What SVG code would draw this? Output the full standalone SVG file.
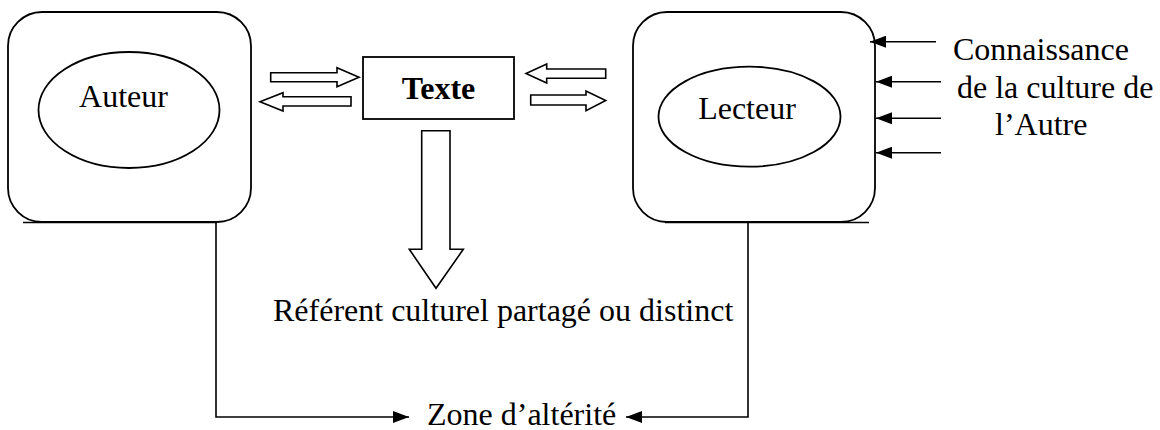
<svg xmlns="http://www.w3.org/2000/svg" width="1160" height="430" viewBox="0 0 1160 430">
<defs>
<style>
.t{font-family:"Liberation Serif","Times New Roman",serif;font-size:32px;fill:#000}
.b{font-weight:bold}
.box{fill:none;stroke:#000;stroke-width:1.8}
.ln{fill:none;stroke:#000;stroke-width:1.6}
.blk{fill:#fff;stroke:#000;stroke-width:1.6;stroke-linejoin:miter}
</style>
<marker id="ah" viewBox="0 0 16 12" refX="16" refY="6" markerWidth="16" markerHeight="12" markerUnits="userSpaceOnUse" orient="auto">
<path d="M0,0 L16,6 L0,12 Z" fill="#000"/>
</marker>
</defs>
<rect width="1160" height="430" fill="#fff"/>
<g id="auteur">
<rect class="box" x="8" y="12" width="243" height="210" rx="34" ry="34"/>
<line class="ln" x1="23" y1="222.5" x2="217" y2="222.5"/>
<ellipse class="box" cx="129" cy="110" rx="90.5" ry="58"/>
<text class="t" x="123.5" y="107" text-anchor="middle">Auteur</text>
</g>
<g id="texte">
<rect class="box" x="363" y="57" width="151" height="62"/>
<text class="t b" x="438.5" y="99" text-anchor="middle">Texte</text>
</g>
<g id="lecteur">
<rect class="box" x="633" y="12" width="242" height="210" rx="34" ry="34"/>
<line class="ln" x1="665" y1="222.5" x2="869" y2="222.5"/>
<ellipse class="box" cx="749.5" cy="116.7" rx="91" ry="50"/>
<text class="t" x="747" y="119" text-anchor="middle">Lecteur</text>
</g>
<g id="connaissance">
<text class="t" x="953" y="60">Connaissance</text>
<text class="t" x="957" y="97.5">de la culture de</text>
<text class="t" x="995" y="135">l’Autre</text>
</g>
<g id="referent">
<text class="t" x="273" y="321">Référent culturel partagé ou distinct</text>
</g>
<g id="zone">
<text class="t" x="427" y="425">Zone d’altérité</text>
</g>
<g id="connectors">
<polygon class="blk" points="270.7,72.7 337,72.7 337,67.7 359,77.2 337,86.7 337,81.7 270.7,81.7"/>
<polygon class="blk" points="351,96.7 283,96.7 283,92.7 260,101.8 283,111 283,106 351,106"/>
<polygon class="blk" points="605.7,69 546.7,69 546.7,64 526,73.5 546.7,83 546.7,78.3 605.7,78.3"/>
<polygon class="blk" points="530.7,95 586,95 586,91 605.7,100.5 586,110.7 586,105 530.7,105"/>
<polygon class="blk" points="421.7,130.7 450,130.7 450,249.3 463.3,249.3 436,288.3 409.3,249.3 421.7,249.3"/>
<line class="ln" x1="936" y1="41.7" x2="870" y2="41.7" marker-end="url(#ah)"/>
<line class="ln" x1="941" y1="81.7" x2="876" y2="81.7" marker-end="url(#ah)"/>
<line class="ln" x1="941" y1="118.3" x2="876" y2="118.3" marker-end="url(#ah)"/>
<line class="ln" x1="941" y1="152.7" x2="876" y2="152.7" marker-end="url(#ah)"/>
<path class="ln" d="M216,222 V417 H409" marker-end="url(#ah)"/>
<path class="ln" d="M748,222 V417 H626" marker-end="url(#ah)"/>
</g>
</svg>
